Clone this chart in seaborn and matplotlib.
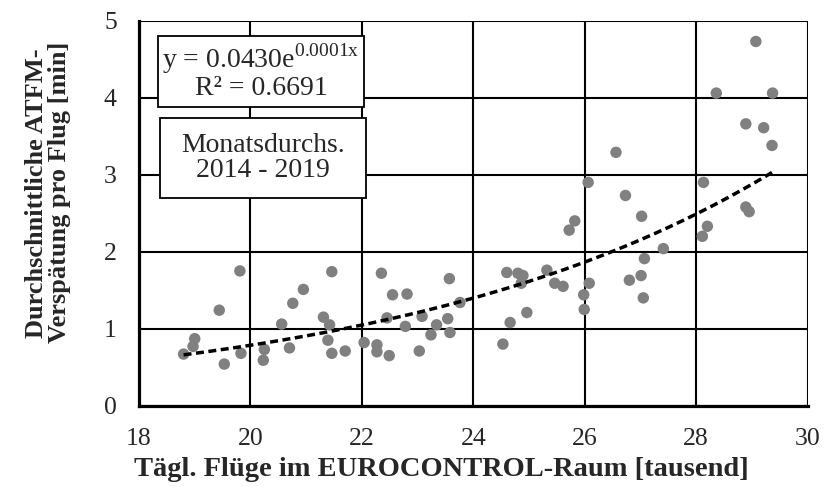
import numpy as np
import pandas as pd
import matplotlib
matplotlib.use("Agg")
import matplotlib.pyplot as plt
import seaborn as sns
from matplotlib.patches import Rectangle

flights = [19.81, 21.46, 19.44, 20.95, 20.76, 20.56, 21.31, 21.42, 21.39, 21.46,
           21.70, 22.04, 22.27, 22.27, 22.35, 19.00, 18.97, 18.80, 19.53, 19.83,
           20.25, 20.23, 20.70, 22.55, 22.81, 23.57, 22.45, 22.78, 23.08, 23.34,
           23.54, 23.24, 23.58, 23.03, 22.49, 23.76, 24.53, 24.66, 24.96, 24.60,
           24.80, 24.89, 24.86, 25.32, 25.46, 25.61, 25.98, 25.99, 26.08, 25.72,
           29.07, 28.36, 29.37, 28.89, 29.21, 29.36, 26.56, 28.13, 26.73, 27.02,
           28.89, 28.95, 28.20, 28.11, 27.41, 27.07, 27.01, 26.80, 27.05, 26.06,
           25.82]
delay = [1.75, 1.74, 1.24, 1.51, 1.33, 1.06, 1.15, 1.05, 0.85, 0.68,
         0.71, 0.82, 0.79, 0.70, 1.72, 0.87, 0.77, 0.67, 0.54, 0.68,
         0.73, 0.59, 0.75, 1.44, 1.45, 1.65, 1.14, 1.03, 1.16, 1.05,
         1.13, 0.92, 0.95, 0.71, 0.65, 1.34, 0.80, 1.08, 1.21, 1.73,
         1.72, 1.69, 1.59, 1.76, 1.59, 1.55, 1.44, 1.25, 1.59, 2.28,
         4.73, 4.06, 4.06, 3.66, 3.61, 3.38, 3.29, 2.90, 2.73, 2.46,
         2.58, 2.52, 2.33, 2.20, 2.04, 1.91, 1.69, 1.63, 1.40, 2.90,
         2.40]

x_ticks = [18, 20, 22, 24, 26, 28, 30]
y_ticks = [0, 1, 2, 3, 4, 5]
x_label = "Tägl. Flüge im EUROCONTROL-Raum [tausend]"
y_label = "Durchschnittliche ATFM-\nVerspätung pro Flug [min]"
eq_text = "y = 0.0430e$^{\\mathregular{0.0001x}}$\nR² = 0.6691"
note_text = "Monatsdurchs.\n2014 - 2019"

df = pd.DataFrame({"x": flights, "y": delay})

# exponential trend fitted to the data
b, ln_a = np.polyfit(df["x"], np.log(df["y"]), 1)
xs = np.linspace(min(flights), max(flights), 200)
trend = pd.DataFrame({"x": xs, "y": np.exp(ln_a) * np.exp(b * xs)})

sns.set_style("white")
plt.rcParams["font.family"] = ["Liberation Serif", "DejaVu Serif"]
plt.rcParams["mathtext.fontset"] = "custom"
plt.rcParams["mathtext.rm"] = "Liberation Serif"

fig, ax = plt.subplots(figsize=(8.25, 4.87), dpi=100)
fig.subplots_adjust(left=0.1685, right=0.979, top=0.9575, bottom=0.167)

ax.set_axisbelow(True)
ax.grid(True, color="black", linewidth=1.5)
sns.scatterplot(data=df, x="x", y="y", ax=ax, color="#808080", s=68,
                edgecolor="none", zorder=3)
sns.lineplot(data=trend, x="x", y="y", ax=ax, color="black", linewidth=2.5,
             linestyle=(0, (2.3, 1.3)), zorder=4)

ax.set_xlim(18, 30)
ax.set_ylim(0, 5)
ax.set_xticks(x_ticks)
ax.set_yticks(y_ticks)
ax.tick_params(axis="both", labelsize=18.5, length=0, pad=16)
ax.set_xlabel(x_label, fontsize=20.5, fontweight="bold")
ax.xaxis.set_label_coords(0.452, -0.133)
ax.set_ylabel(y_label, fontsize=19, fontweight="bold", linespacing=1.0)
ax.yaxis.set_label_coords(-0.102, 0.553)
for side in ["top", "right"]:
    ax.spines[side].set_visible(False)
for side in ["left", "bottom"]:
    ax.spines[side].set_color("black")
    ax.spines[side].set_linewidth(2.3)

for (x0, y0, w, h, txt) in [(0.029, 0.777, 0.307, 0.183, eq_text),
                            (0.031, 0.540, 0.308, 0.206, note_text)]:
    ax.add_patch(Rectangle((x0, y0), w, h, transform=ax.transAxes,
                           facecolor="white", edgecolor="black",
                           linewidth=1.3, zorder=5))
    ax.text(x0 + w / 2, y0 + h / 2, txt, transform=ax.transAxes,
            ha="center", va="center", fontsize=20, zorder=6,
            linespacing=1.0)

fig.savefig("out.png", dpi=100)
